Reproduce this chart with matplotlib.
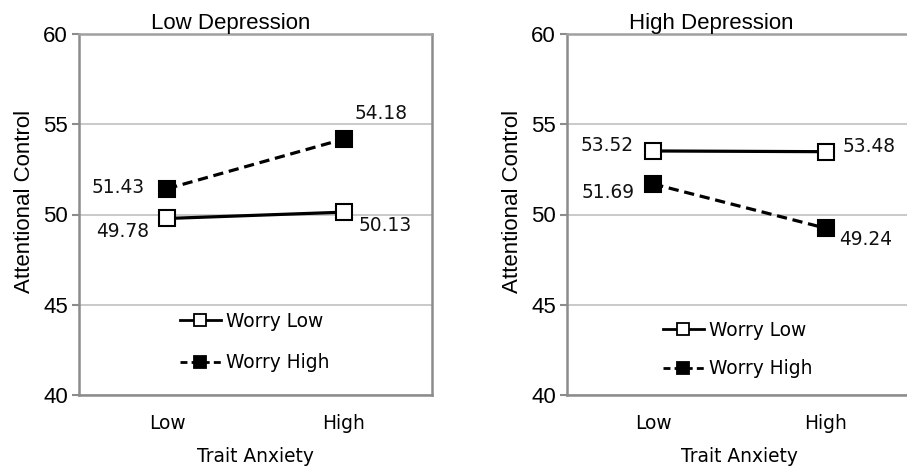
import matplotlib
matplotlib.use("Agg")
import matplotlib.pyplot as plt
from matplotlib.lines import Line2D

categories = ["Low", "High"]
panel_titles = ["Low Depression", "High Depression"]
worry_low = [[49.78, 50.13], [53.52, 53.48]]
worry_high = [[51.43, 54.18], [51.69, 49.24]]
series_names = ["Worry Low", "Worry High"]
yticks = [40, 45, 50, 55, 60]

W, H = 907, 468
fig = plt.figure(figsize=(W / 100, H / 100), dpi=100)

ARIAL = "Liberation Sans"
VERD = "DejaVu Sans"
spine_c = "#8c8c8c"
grid_c = "#c0c0c0"

# axes rectangles in pixels: (left, right)
rects = [(79, 432), (567, 912)]
top_px, bot_px = 34, 395

# label offsets in pixels (dx, dy) for [worry_low, worry_high] at [Low, High]
offs = [
    {"low": [(-45, -13), (41, -13)], "high": [(-49, 1), (37, 26)]},
    {"low": [(-46, 5), (43, 5)], "high": [(-45, -9), (40, -11)]},
]
title_x = [0.43, 0.417]
leg_pos = [(0.286, 0.147, 1.2), (0.278, 0.126, 1.04)]

for i in range(2):
    l, r = rects[i]
    ax = fig.add_axes([l / W, 1 - bot_px / H, (r - l) / W, (bot_px - top_px) / H])
    x = [0.5, 1.5]
    ax.plot(x, worry_high[i], color="black", lw=2.3, ls=(0, (3.2, 1.8)),
            marker="s", ms=11.5, mfc="black", mec="black", mew=1.5, zorder=3)
    ax.plot(x, worry_low[i], color="black", lw=2.3, ls="-",
            marker="s", ms=11.5, mfc="white", mec="black", mew=1.5, zorder=4)
    for j in range(2):
        dx, dy = offs[i]["low"][j]
        ax.annotate(f"{worry_low[i][j]:.2f}", (x[j], worry_low[i][j]),
                    xytext=(dx, dy), textcoords="offset pixels",
                    ha="center", va="center", fontsize=13.4, family=VERD, color="#111111")
        dx, dy = offs[i]["high"][j]
        ax.annotate(f"{worry_high[i][j]:.2f}", (x[j], worry_high[i][j]),
                    xytext=(dx, dy), textcoords="offset pixels",
                    ha="center", va="center", fontsize=13.4, family=VERD, color="#111111")
    ax.set_xlim(0, 2)
    ax.set_ylim(40, 60)
    ax.set_yticks(yticks)
    ax.set_yticklabels([str(t) for t in yticks], family=ARIAL, fontsize=16)
    ax.set_xticks(x)
    ax.set_xticklabels(categories, family=VERD, fontsize=13.4)
    ax.tick_params(axis="x", length=0, pad=14)
    ax.tick_params(axis="y", length=5, width=1.5, color=spine_c, pad=3, direction="out")
    ax.yaxis.grid(True, color=grid_c, lw=1.2)
    ax.set_axisbelow(True)
    for s in ax.spines.values():
        s.set_color(spine_c)
        s.set_linewidth(1.8)
    ax.spines["top"].set_color("#a0a0a0")
    ax.text(title_x[i], 1.0, panel_titles[i], transform=ax.transAxes,
            ha="center", va="bottom", fontsize=16, family=ARIAL)
    ax.text((25 + 488 * i - l) / (r - l) if i == 0 else (513 - l) / (r - l), 0.535,
            "Attentional Control", transform=ax.transAxes, rotation=90,
            ha="center", va="center", fontsize=16, family=ARIAL)
    ax.text(0.5, -(457 - bot_px) / (bot_px - top_px), "Trait Anxiety",
            transform=ax.transAxes, ha="center", va="center", fontsize=13.4, family=VERD)
    handles = [
        Line2D([], [], color="black", lw=2.0, ls="-", marker="s", ms=8,
               mfc="white", mec="black", mew=1.3),
        Line2D([], [], color="black", lw=2.0, ls=(0, (2.5, 1.5)), marker="s", ms=8,
               mfc="black", mec="black", mew=1.3),
    ]
    lx, ly, lsp = leg_pos[i]
    ax.legend(handles, series_names, loc="center left", bbox_to_anchor=(lx, ly),
              frameon=False, borderpad=0, borderaxespad=0, handlelength=2.2,
              handletextpad=0.3, labelspacing=lsp,
              prop={"family": VERD, "size": 13.4})

fig.savefig("out.png", dpi=100)
